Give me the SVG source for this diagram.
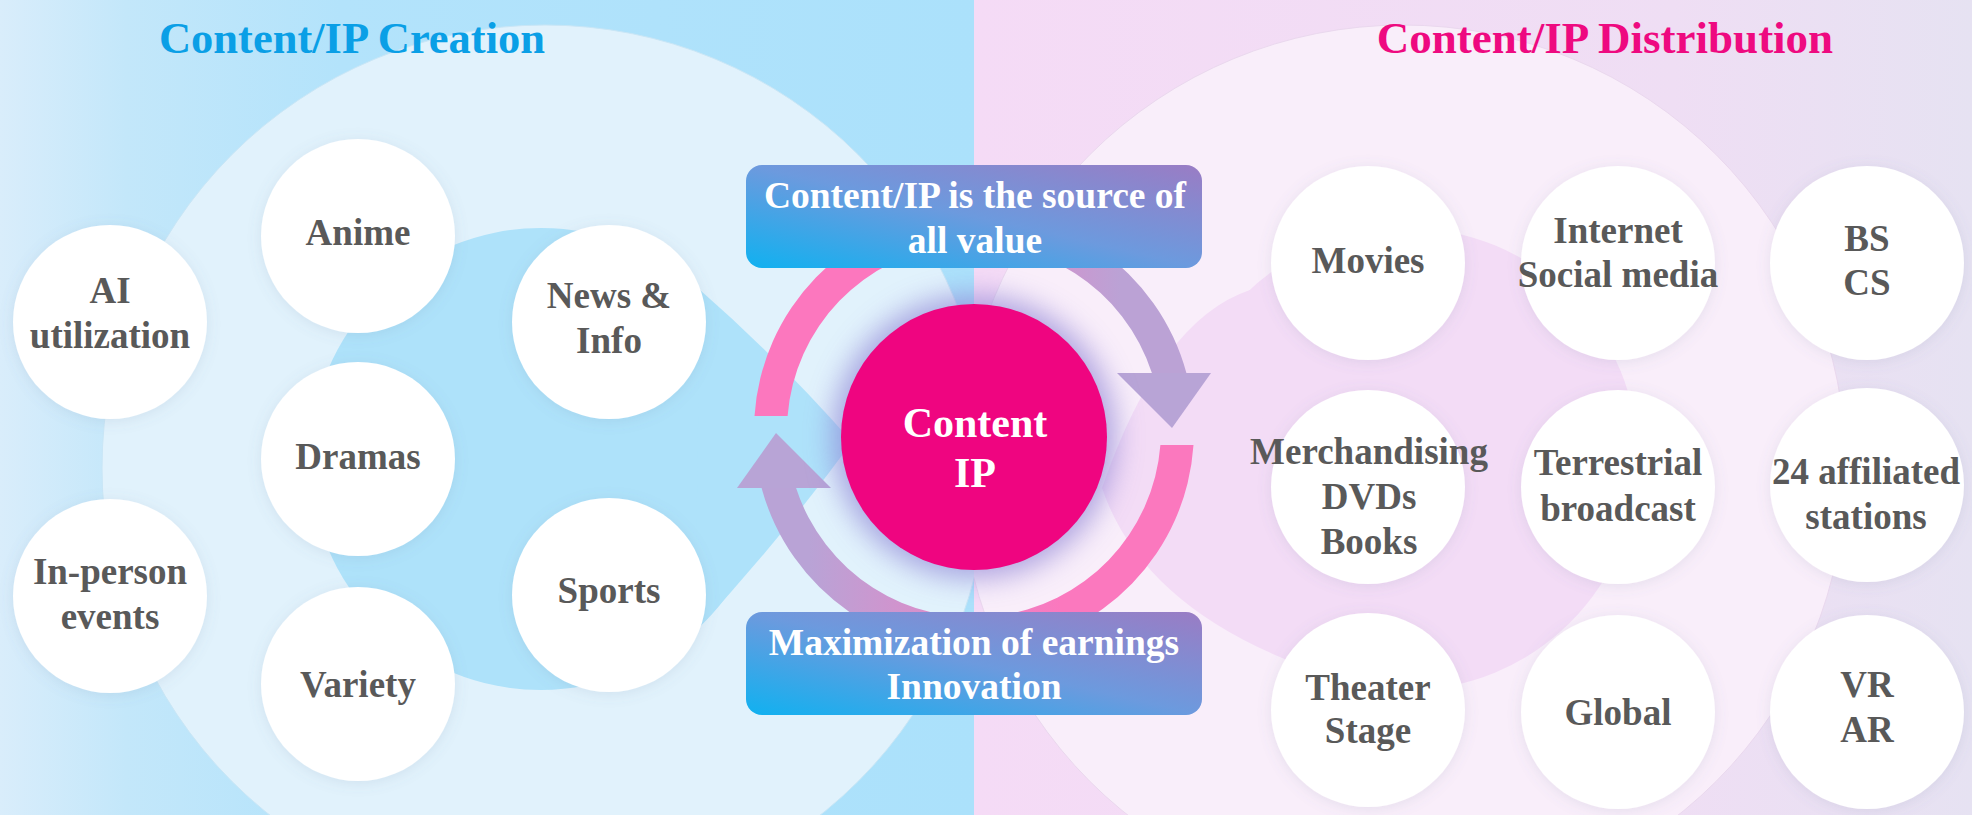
<svg xmlns="http://www.w3.org/2000/svg" width="1972" height="815" viewBox="0 0 1972 815">
<defs>
<style>
.node circle{fill:#ffffff;filter:url(#sh)}
.node text{font-family:"Liberation Serif","Times New Roman",serif;font-weight:bold;font-size:37px;fill:#595959;text-anchor:middle}
.title{font-family:"Liberation Serif","Times New Roman",serif;font-weight:bold;text-anchor:middle}
.boxtext{font-family:"Liberation Serif","Times New Roman",serif;font-weight:bold;font-size:37.5px;fill:#ffffff;text-anchor:middle}
.box{fill:url(#boxg)}
</style>
<linearGradient id="bgL" x1="0" y1="0" x2="974" y2="0" gradientUnits="userSpaceOnUse">
<stop offset="0" stop-color="#d9edfb"/>
<stop offset="0.13" stop-color="#c3e7fa"/>
<stop offset="0.35" stop-color="#b3e3fb"/>
<stop offset="1" stop-color="#abe1fb"/>
</linearGradient>
<linearGradient id="bgR" x1="974" y1="0" x2="1972" y2="0" gradientUnits="userSpaceOnUse">
<stop offset="0" stop-color="#f5dbf6"/>
<stop offset="0.7" stop-color="#efdef4"/>
<stop offset="1" stop-color="#e6e2f2"/>
</linearGradient>
<linearGradient id="boxg" x1="0" y1="1" x2="1" y2="0">
<stop offset="0" stop-color="#10b1f0"/>
<stop offset="0.5" stop-color="#6c9ade"/>
<stop offset="1" stop-color="#9a7cc4"/>
</linearGradient>
<linearGradient id="arc1g" x1="900" y1="0" x2="1120" y2="0" gradientUnits="userSpaceOnUse">
<stop offset="0" stop-color="#fc77be"/>
<stop offset="1" stop-color="#bba2d5"/>
</linearGradient>
<linearGradient id="arc2g" x1="1060" y1="0" x2="810" y2="0" gradientUnits="userSpaceOnUse">
<stop offset="0" stop-color="#fb78be"/>
<stop offset="1" stop-color="#b9a3d6"/>
</linearGradient>
<clipPath id="clipL"><rect x="0" y="0" width="974" height="815"/></clipPath>
<clipPath id="clipR"><rect x="974" y="0" width="998" height="815"/></clipPath>
<filter id="sh" x="-30%" y="-30%" width="160%" height="160%">
<feDropShadow dx="0" dy="2" stdDeviation="7" flood-color="#6a7d9c" flood-opacity="0.14"/>
</filter>
<filter id="glow" x="-50%" y="-50%" width="200%" height="200%">
<feGaussianBlur stdDeviation="14"/>
</filter>
</defs>

<g id="background">
<rect x="0" y="0" width="974" height="815" fill="url(#bgL)"/>
<rect x="974" y="0" width="998" height="815" fill="url(#bgR)"/>
<g clip-path="url(#clipL)">
<circle cx="545" cy="468" r="443" fill="#e1f2fc" stroke="#c9e6f6" stroke-width="1"/>
<circle cx="541" cy="459" r="231" fill="#aee2fa"/>
<path d="M700,290 Q780,360 852,442 Q780,540 695,632 Z" fill="#aee2fa"/>
</g>
<g clip-path="url(#clipR)">
<circle cx="1403" cy="468" r="443" fill="#f9eefa" stroke="#ead8ee" stroke-width="1"/>
<circle cx="1407" cy="459" r="231" fill="#f3dcf6"/>
<path d="M1250,290 Q1160,320 1102,488 Q1140,600 1287,660 Z" fill="#f3dcf6"/>
</g>
</g>

<g id="titles">
<text class="title" x="352" y="53" font-size="44.5" fill="#0a9fe6">Content/IP Creation</text>
<text class="title" x="1605" y="53" font-size="45" fill="#ee0a80">Content/IP Distribution</text>
</g>

<g id="connectors">
<path id="arc-top" d="M754.5,416 A220,220 0 0 1 1186.4,373 L1151.9,373 A187,187 0 0 0 787.6,416 Z" fill="url(#arc1g)"/>
<polygon id="head-top" points="1117,373 1211,373 1172,428" fill="#b8a4d6"/>
<path id="arc-bottom" d="M1193.5,445 A220,220 0 0 1 761.6,488 L796.1,488 A187,187 0 0 0 1160.4,445 Z" fill="url(#arc2g)"/>
<polygon id="head-bottom" points="737,488 831,488 776,433" fill="#b8a4d6"/>
</g>

<g id="center">
<circle cx="974" cy="437" r="142" fill="#8f84d6" opacity="0.7" filter="url(#glow)"/>
<circle cx="974" cy="437" r="133" fill="#ef0580"/>
<text class="title" x="975" y="437" font-size="42" fill="#ffffff">Content</text>
<text class="title" x="975" y="487" font-size="42" fill="#ffffff">IP</text>
</g>

<g id="box-top">
<rect class="box" x="746" y="165" width="456" height="103" rx="16"/>
<text class="boxtext" x="975" y="208">Content/IP is the source of</text>
<text class="boxtext" x="975" y="253">all value</text>
</g>
<g id="box-bottom">
<rect class="box" x="746" y="612" width="456" height="103" rx="16"/>
<text class="boxtext" x="974" y="655">Maximization of earnings</text>
<text class="boxtext" x="974" y="699">Innovation</text>
</g>

<g id="node-ai" class="node"><circle cx="110" cy="322" r="97"/><text x="110"><tspan x="110" y="303">AI</tspan><tspan x="110" y="348">utilization</tspan></text></g>
<g id="node-anime" class="node"><circle cx="358" cy="236" r="97"/><text x="358" y="245">Anime</text></g>
<g id="node-news" class="node"><circle cx="609" cy="322" r="97"/><text x="609"><tspan x="609" y="308">News &amp;</tspan><tspan x="609" y="353">Info</tspan></text></g>
<g id="node-dramas" class="node"><circle cx="358" cy="459" r="97"/><text x="358" y="469">Dramas</text></g>
<g id="node-inperson" class="node"><circle cx="110" cy="596" r="97"/><text x="110"><tspan x="110" y="584">In-person</tspan><tspan x="110" y="629">events</tspan></text></g>
<g id="node-sports" class="node"><circle cx="609" cy="595" r="97"/><text x="609" y="603">Sports</text></g>
<g id="node-variety" class="node"><circle cx="358" cy="684" r="97"/><text x="358" y="697">Variety</text></g>

<g id="node-movies" class="node"><circle cx="1368" cy="263" r="97"/><text x="1368" y="273">Movies</text></g>
<g id="node-internet" class="node"><circle cx="1618" cy="263" r="97"/><text x="1618"><tspan x="1618" y="243">Internet</tspan><tspan x="1618" y="287">Social media</tspan></text></g>
<g id="node-bscs" class="node"><circle cx="1867" cy="263" r="97"/><text x="1867"><tspan x="1867" y="251">BS</tspan><tspan x="1867" y="295">CS</tspan></text></g>
<g id="node-merch" class="node"><circle cx="1368" cy="487" r="97"/><text x="1369"><tspan x="1369" y="464">Merchandising</tspan><tspan x="1369" y="509">DVDs</tspan><tspan x="1369" y="554">Books</tspan></text></g>
<g id="node-terrestrial" class="node"><circle cx="1618" cy="487" r="97"/><text x="1618"><tspan x="1618" y="475">Terrestrial</tspan><tspan x="1618" y="521">broadcast</tspan></text></g>
<g id="node-affiliated" class="node"><circle cx="1867" cy="485" r="97"/><text x="1866"><tspan x="1866" y="484">24 affiliated</tspan><tspan x="1866" y="529">stations</tspan></text></g>
<g id="node-theater" class="node"><circle cx="1368" cy="710" r="97"/><text x="1368"><tspan x="1368" y="700">Theater</tspan><tspan x="1368" y="743">Stage</tspan></text></g>
<g id="node-global" class="node"><circle cx="1618" cy="712" r="97"/><text x="1618" y="725">Global</text></g>
<g id="node-vrar" class="node"><circle cx="1867" cy="712" r="97"/><text x="1867"><tspan x="1867" y="697">VR</tspan><tspan x="1867" y="742">AR</tspan></text></g>
</svg>
